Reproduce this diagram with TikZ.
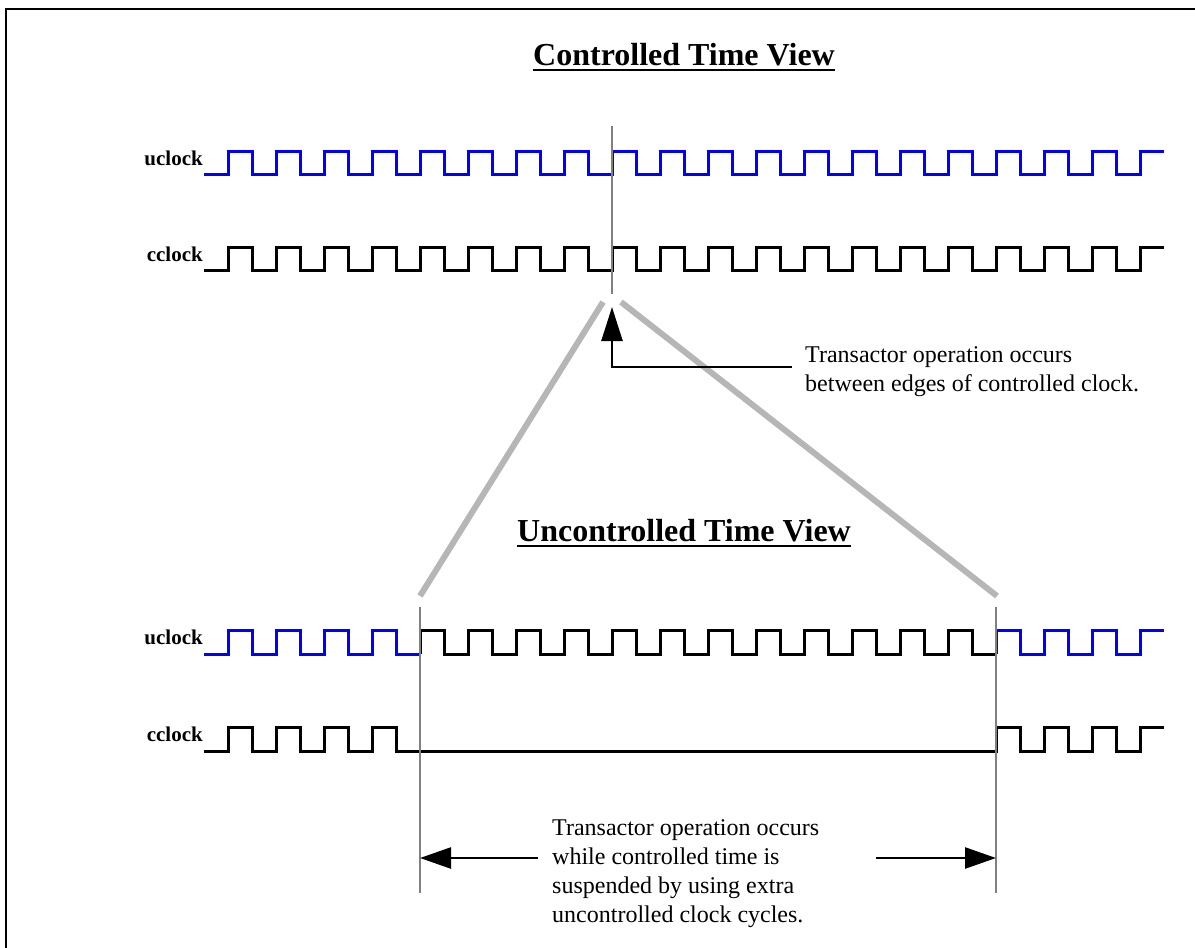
\documentclass[tikz,border=0pt]{standalone}
\usepackage{fontspec}
\setmainfont{Liberation Serif}
\usetikzlibrary{arrows.meta}
\definecolor{ublue}{RGB}{0,0,255}
\definecolor{markgray}{RGB}{128,128,128}
\definecolor{zoomgray}{RGB}{182,182,182}

\begin{document}
\begin{tikzpicture}[x=1pt, y=-1pt,
  wave/.style={line width=3pt, line join=miter, line cap=butt},
  marker/.style={draw=markgray, line width=2.5pt},
  zoomline/.style={draw=zoomgray, line width=6pt},
  pointer/.style={draw=black, line width=2.5pt,
    -{Triangle[length=34pt, width=21pt]}},
  span/.style={draw=black, line width=2.5pt,
    -{Triangle[length=31pt, width=21pt]}},
  heading/.style={font=\fontsize{32}{38}\selectfont\bfseries, inner sep=0pt},
  signame/.style={font=\fontsize{21}{25}\selectfont\bfseries, inner sep=0pt},
  note/.style={font=\fontsize{24}{29}\selectfont, inner sep=0pt, align=left},
]
\useasboundingbox (0,0) rectangle (1195,948);

% outer frame
\draw[line width=2.5pt] (6,9) rectangle (1205,960);

% ---------------- controlled time view ----------------
\node[heading, anchor=base] (t1) at (684,65) {Controlled Time View};
\draw[line width=2pt] ([yshift=-5pt]t1.base west) -- ([yshift=-5pt]t1.base east);

\node[signame, anchor=base east] (u1) at (203,165) {uclock};
\node[signame, anchor=base east] (c1) at (203,261) {cclock};

% uclock (blue), 20 rising edges, period 48
\draw[wave, ublue] (204,174) -- (228,174)
  foreach \k in {0,...,18} { -- ++(0,-23) -- ++(24,0) -- ++(0,23) -- ++(24,0) }
  -- ++(0,-23) -- ++(24,0);
% cclock (black)
\draw[wave] (204,270) -- (228,270)
  foreach \k in {0,...,18} { -- ++(0,-23) -- ++(24,0) -- ++(0,23) -- ++(24,0) }
  -- ++(0,-23) -- ++(24,0);

% instant of the transactor operation
\coordinate (mtop) at (612,126);
\coordinate (mbot) at (612,294);
\draw[marker] (mtop) -- (mbot);

% zoom guides
\coordinate (zl1) at (603,302);
\coordinate (zl2) at (420,596);
\coordinate (zr1) at (621,302);
\coordinate (zr2) at (997,596);
\draw[zoomline] (zl1) -- (zl2);
\draw[zoomline] (zr1) -- (zr2);

% pointer to the edge (multi-line node: base is the last line)
\node[note, anchor=base west] (n1) at (805,391)
  {Transactor operation occurs\\between edges of controlled clock.};
\coordinate (ptip) at (612,307);
\coordinate (pcorner) at (612,367);
\coordinate (pend) at (792,367);
\draw[pointer] (pend) -- (pcorner) -- (ptip);

% ---------------- uncontrolled time view ----------------
\node[heading, anchor=base] (t2) at (684,541) {Uncontrolled Time View};
\draw[line width=2pt] ([yshift=-5pt]t2.base west) -- ([yshift=-5pt]t2.base east);

\node[signame, anchor=base east] (u2) at (203,644) {uclock};
\node[signame, anchor=base east] (c2) at (203,741) {cclock};

% uclock: blue before suspension
\draw[wave, ublue] (204,654) -- (228,654)
  foreach \k in {0,...,3} { -- ++(0,-24) -- ++(24,0) -- ++(0,24) -- ++(24,0) };
% uclock: black while controlled time is suspended
\draw[wave] (420,654)
  foreach \k in {4,...,15} { -- ++(0,-24) -- ++(24,0) -- ++(0,24) -- ++(24,0) };
% uclock: blue after suspension
\draw[wave, ublue] (996,654)
  foreach \k in {16,...,18} { -- ++(0,-24) -- ++(24,0) -- ++(0,24) -- ++(24,0) }
  -- ++(0,-24) -- ++(24,0);

% cclock: stopped between the two markers
\draw[wave] (204,751) -- (228,751)
  foreach \k in {0,...,3} { -- ++(0,-24) -- ++(24,0) -- ++(0,24) -- ++(24,0) }
  -- (996,751)
  foreach \k in {16,...,18} { -- ++(0,-24) -- ++(24,0) -- ++(0,24) -- ++(24,0) }
  -- ++(0,-24) -- ++(24,0);

% suspension markers
\coordinate (sl1) at (420,607);
\coordinate (sl2) at (420,893);
\coordinate (sr1) at (996,607);
\coordinate (sr2) at (996,893);
\draw[marker] (sl1) -- (sl2);
\draw[marker] (sr1) -- (sr2);

\node[note, anchor=base west] (n2) at (552,922)
  {Transactor operation occurs\\while controlled time is\\suspended by using extra\\uncontrolled clock cycles.};
\coordinate (al) at (538,858);
\coordinate (ar) at (876,858);
\coordinate (alt) at (420,858);
\coordinate (art) at (996,858);
\draw[span] (al) -- (alt);
\draw[span] (ar) -- (art);
\end{tikzpicture}
\end{document}
